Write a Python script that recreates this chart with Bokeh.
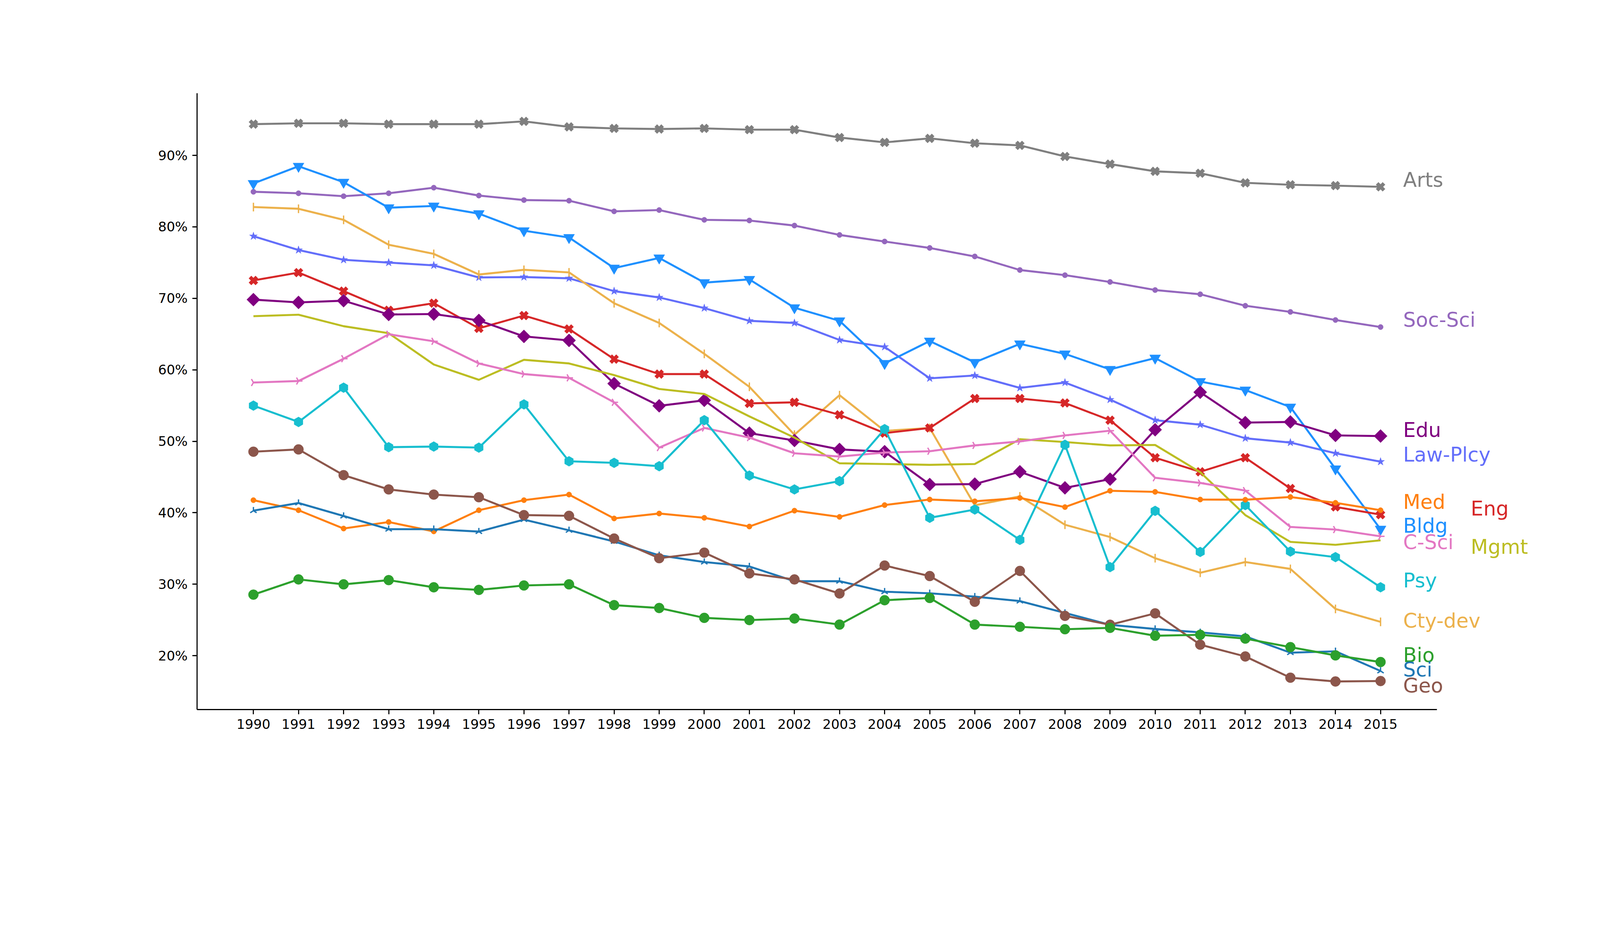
import numpy as np
from bokeh.plotting import figure
from bokeh.models import FixedTicker, Range1d, ColumnDataSource
from bokeh.core.properties import value
from bokeh.embed import file_html
from bokeh.resources import INLINE

years = list(range(1990, 2016))

arts = [94.37, 94.49, 94.49, 94.37, 94.37, 94.37, 94.76, 93.99, 93.78, 93.69, 93.78, 93.60, 93.60,
        92.50, 91.82, 92.38, 91.70, 91.40, 89.85, 88.78, 87.77, 87.50, 86.16, 85.89, 85.77, 85.60]
soc_sci = [84.91, 84.70, 84.29, 84.70, 85.48, 84.38, 83.75, 83.66, 82.17, 82.35, 80.98, 80.89, 80.18,
           78.87, 77.95, 77.05, 75.86, 73.96, 73.24, 72.29, 71.16, 70.57, 68.96, 68.10, 66.97, 65.98]
bldg = [86.07, 88.48, 86.25, 82.68, 82.92, 81.85, 79.46, 78.51, 74.23, 75.65, 72.20, 72.65, 68.69,
        66.85, 60.89, 64.02, 61.04, 63.63, 62.23, 60.06, 61.64, 58.36, 57.17, 54.79, 46.14, 37.70]
law_plcy = [78.69, 76.76, 75.39, 75.00, 74.61, 72.92, 72.98, 72.80, 71.01, 70.12, 68.63, 66.85, 66.55,
            64.17, 63.21, 58.81, 59.20, 57.47, 58.21, 55.83, 52.95, 52.32, 50.42, 49.82, 48.32, 47.14]
cty_dev = [82.77, 82.53, 80.98, 77.50, 76.22, 73.33, 73.99, 73.63, 69.31, 66.55, 62.23, 57.62, 50.92,
           56.45, 51.45, 51.86, 41.04, 42.29, 38.32, 36.60, 33.64, 31.60, 33.10, 32.14, 26.54, 24.73]
eng = [72.50, 73.60, 71.01, 68.33, 69.32, 65.80, 67.59, 65.71, 61.49, 59.40, 59.40, 55.30, 55.45,
       53.70, 51.14, 51.86, 55.98, 55.98, 55.36, 52.95, 47.70, 45.73, 47.70, 43.39, 40.82, 39.73]
edu = [69.82, 69.43, 69.67, 67.74, 67.80, 66.91, 64.67, 64.11, 58.07, 54.96, 55.73, 51.14, 50.11,
       48.86, 48.54, 43.95, 44.01, 45.73, 43.48, 44.70, 51.61, 56.86, 52.61, 52.70, 50.82, 50.73]
mgmt = [67.50, 67.71, 66.10, 65.12, 60.74, 58.60, 61.40, 60.89, 59.26, 57.32, 56.62, 53.48, 50.51,
        46.92, 46.82, 46.70, 46.82, 50.29, 49.89, 49.42, 49.48, 45.67, 39.67, 35.92, 35.51, 36.14]
c_sci = [58.22, 58.43, 61.55, 64.97, 63.99, 60.89, 59.40, 58.87, 55.45, 49.11, 51.86, 50.51, 48.32,
         47.86, 48.42, 48.61, 49.42, 49.98, 50.82, 51.48, 44.89, 44.17, 43.10, 38.01, 37.64, 36.70]
psy = [54.99, 52.70, 57.50, 49.17, 49.26, 49.11, 55.16, 47.20, 46.98, 46.51, 52.95, 45.20, 43.26,
       44.42, 51.70, 39.29, 40.45, 36.20, 49.51, 32.39, 40.26, 34.51, 41.07, 34.57, 33.79, 29.57]
med = [41.76, 40.35, 37.79, 38.70, 37.39, 40.35, 41.76, 42.54, 39.20, 39.89, 39.29, 38.07, 40.29,
       39.42, 41.07, 41.85, 41.60, 42.07, 40.79, 43.07, 42.92, 41.85, 41.82, 42.20, 41.39, 40.35]
geo = [48.54, 48.86, 45.26, 43.26, 42.54, 42.17, 39.67, 39.57, 36.39, 33.64, 34.42, 31.51, 30.67,
       28.70, 32.61, 31.14, 27.54, 31.86, 25.57, 24.33, 25.92, 21.54, 19.89, 16.92, 16.39, 16.45]
sci = [40.29, 41.36, 39.54, 37.70, 37.70, 37.36, 39.04, 37.54, 35.98, 34.04, 33.10, 32.48, 30.42,
       30.42, 28.95, 28.73, 28.26, 27.64, 25.98, 24.32, 23.73, 23.26, 22.70, 20.42, 20.61, 17.86]
bio = [28.54, 30.67, 29.98, 30.57, 29.57, 29.20, 29.82, 29.98, 27.07, 26.67, 25.29, 24.98, 25.20,
       24.35, 27.76, 28.07, 24.35, 24.04, 23.70, 23.89, 22.79, 22.92, 22.39, 21.20, 20.04, 19.11]

y_ticks = [20, 30, 40, 50, 60, 70, 80, 90]
y_tick_labels = ["20%", "30%", "40%", "50%", "60%", "70%", "80%", "90%"]

label_names = ["Arts", "Soc-Sci", "Edu", "Law-Plcy", "Med", "Eng", "Bldg", "C-Sci", "Mgmt",
               "Psy", "Cty-dev", "Bio", "Sci", "Geo"]
label_x = [2015.5, 2015.5, 2015.5, 2015.5, 2015.5, 2017.0, 2015.5, 2015.5, 2017.0,
           2015.5, 2015.5, 2015.5, 2015.5, 2015.5]
label_y = [86.6, 67.0, 51.6, 48.17, 41.5, 40.6, 38.17, 35.92, 35.25,
           30.51, 24.89, 20.1, 18.07, 15.82]

colors = {
    "Arts": "#7f7f7f", "Soc-Sci": "#9467bd", "Bldg": "#1e90ff", "Law-Plcy": "#636efa",
    "Cty-dev": "#ecb14b", "Eng": "#d62728", "Edu": "#800080", "Mgmt": "#bcbd22",
    "C-Sci": "#e377c2", "Psy": "#17becf", "Med": "#ff7f0e", "Geo": "#8c564b",
    "Sci": "#1f77b4", "Bio": "#2ca02c",
}

FONT = "DejaVu Sans"
S = 4096 / 4800  # css px per photographed px

def px(v):
    return v * S

X0, X1 = 1988.75, 2016.25          # spine extent
FIG_W, FIG_H = 4080, 2032
B_LEFT, B_TOP, B_BOTTOM = 504, 238, 217
AXES_W = 3174                       # width of the spine box in css px
x_end = X0 + (FIG_W - B_LEFT) * (X1 - X0) / AXES_W

p = figure(width=FIG_W, height=FIG_H, output_backend="svg", toolbar_location=None,
           x_range=Range1d(X0, x_end), y_range=Range1d(12.46, 98.70),
           min_border_left=B_LEFT, min_border_right=0, min_border_top=B_TOP,
           min_border_bottom=B_BOTTOM)
p.outline_line_color = None
p.xgrid.visible = False
p.ygrid.visible = False
p.background_fill_color = "white"
p.border_fill_color = "white"

for ax in (p.xaxis, p.yaxis):
    ax.axis_line_width = px(3.3)
    ax.axis_line_color = "black"
    ax.major_tick_line_width = px(3.3)
    ax.major_tick_out = int(round(px(14)))
    ax.major_tick_in = 0
    ax.minor_tick_line_color = None
    ax.major_label_text_font = FONT
    ax.major_label_text_font_size = f"{px(40):.1f}px"
    ax.major_label_text_color = "black"
    ax.major_label_standoff = int(round(px(14)))

p.xaxis.bounds = (X0, X1)
p.xaxis.ticker = FixedTicker(ticks=years)
p.xaxis.major_label_overrides = {y: str(y) for y in years}
p.yaxis.ticker = FixedTicker(ticks=y_ticks)
p.yaxis.major_label_overrides = {t: l for t, l in zip(y_ticks, y_tick_labels)}

LW = px(6)

def series(vals, name, marker=None, size=0, angle=0.0, line_marker=False, mlw=1.0):
    c = colors[name]
    p.line(years, vals, line_color=c, line_width=LW)
    if marker is None:
        return
    if marker == "tri_right":
        for a in (0.0, 2 * np.pi / 3, -2 * np.pi / 3):
            p.ray(x=years, y=vals, length=px(size) / 2, length_units="screen", angle=a,
                  line_color=c, line_width=px(mlw))
        return
    if line_marker:
        p.scatter(years, vals, marker=marker, size=px(size), angle=angle,
                  line_color=c, fill_color=None, line_width=px(mlw))
    else:
        p.scatter(years, vals, marker=marker, size=px(size), angle=angle,
                  line_color=c, fill_color=c, line_width=px(mlw))

series(arts, "Arts", "x", 29, line_marker=True, mlw=11)
series(soc_sci, "Soc-Sci", "circle", 16)
series(law_plcy, "Law-Plcy", "star", 25)
series(bldg, "Bldg", "inverted_triangle", 33)
series(cty_dev, "Cty-dev", "dash", 26, angle=np.pi / 2, line_marker=True, mlw=4)
series(eng, "Eng", "x", 29, line_marker=True, mlw=11)
series(edu, "Edu", "square", 28, angle=np.pi / 4)
series(mgmt, "Mgmt")
series(c_sci, "C-Sci", "tri_right", 24, mlw=4)
series(psy, "Psy", "hex", 30, angle=np.pi / 6)
series(med, "Med", "circle", 16)
series(sci, "Sci", "y", 22, angle=np.pi, line_marker=True, mlw=4)
series(geo, "Geo", "circle", 30)
series(bio, "Bio", "circle", 30)

label_src = ColumnDataSource(dict(x=label_x, y=label_y, text=label_names,
                                  color=[colors[n] for n in label_names]))
p.text(x="x", y="y", text="text", text_color="color", source=label_src,
       text_font=value(FONT), text_font_size=value(f"{px(60):.1f}px"),
       text_align="left", text_baseline="middle")

open("out.html", "w").write(file_html(p, INLINE))
